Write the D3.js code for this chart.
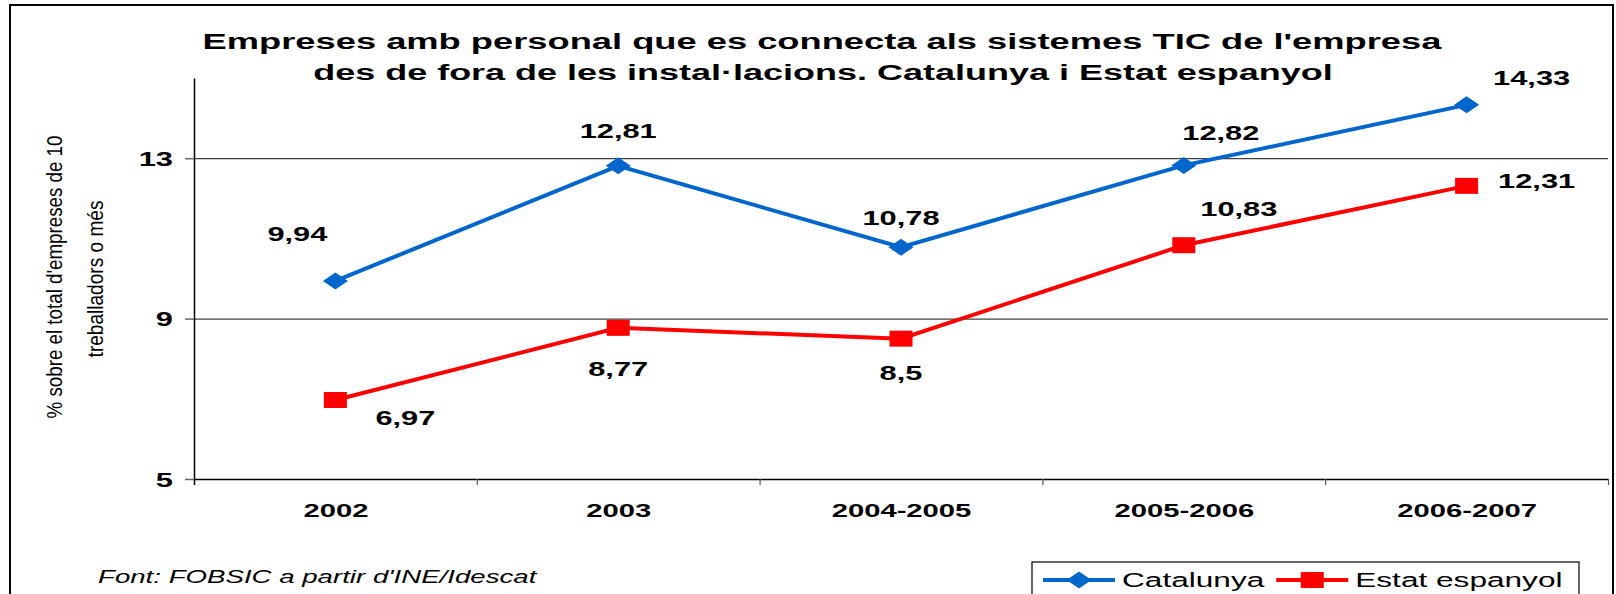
<!DOCTYPE html>
<html>
<head>
<meta charset="utf-8">
<script src="https://cdn.jsdelivr.net/npm/d3@7"></script>
<style>
  html, body { margin: 0; padding: 0; background: #fff; }
  svg { display: block; font-family: Arial, "Liberation Sans", sans-serif; }
</style>
</head>
<body>
<svg id="chart" width="1616" height="594"></svg>
<script>
// chart values
const categories = ["2002", "2003", "2004-2005", "2005-2006", "2006-2007"];
const catalunya = [9.94, 12.81, 10.78, 12.82, 14.33];
const estat = [6.97, 8.77, 8.5, 10.83, 12.31];
const seriesNames = ["Catalunya", "Estat espanyol"];
const yTicks = [5, 9, 13];
const yDomain = [5, 15];

const titleLines = [
  "Empreses amb personal que es connecta als sistemes TIC de l'empresa",
  "des de fora de les instal·lacions. Catalunya i Estat espanyol"
];
const yTitleLines = ["% sobre el total d'empreses de 10", "treballadors o més"];
const sourceText = "Font: FOBSIC a partir d'INE/Idescat";

// label placement relative to each point (dx, dy)
const catOffsets = [[-38, -47], [0, -35], [0, -29], [37, -32], [65, -27]];
const estOffsets = [[70, 18], [0, 41], [0, 34], [55, -36], [70, -5]];

const colors = ["#0066CC", "#FF0000"];
const SX = 1.58; // the original picture is stretched horizontally

const svg = d3.select("#chart");
const margin = { left: 194, right: 8, top: 78, bottom: 115 };
const W = 1616, H = 594;
const plotBottom = H - margin.bottom; // 479

const x = d3.scalePoint().domain(categories)
  .range([margin.left, W - margin.right]).padding(0.5);
const xb = d3.scaleLinear().domain([0, categories.length])
  .range([margin.left, W - margin.right]);
const y = d3.scaleLinear().domain(yDomain).range([plotBottom, margin.top]);

const fmt = d3.formatLocale({ decimal: ",", thousands: ".", grouping: [3], currency: ["", ""] }).format(".4~g");

// helper: put text in a group and stretch it
function stretchText(parent, tx, ty, str, opts) {
  const g = parent.append("g");
  const t = g.append("text")
    .attr("text-anchor", opts.anchor || "middle")
    .style("font-size", opts.size + "px")
    .style("font-weight", opts.weight || "normal")
    .style("font-style", opts.style || "normal")
    .attr("fill", "#000")
    .text(str);
  const w = t.node().getComputedTextLength();
  const k = opts.width ? opts.width / w : (opts.k || SX);
  if (opts.rotate) {
    g.attr("transform", `translate(${tx},${ty}) rotate(${opts.rotate}) scale(${k},${opts.ky || 1})`);
  } else {
    g.attr("transform", `translate(${tx},${ty}) scale(${k},1)`);
  }
  return w * k;
}

// outer border
svg.append("rect")
  .attr("x", 10).attr("y", 5)
  .attr("width", 1603).attr("height", 620)
  .attr("fill", "none").attr("stroke", "#000").attr("stroke-width", 2);

// title
stretchText(svg, 822, 49, titleLines[0], { size: 22.5, weight: "bold", width: 1239 });
stretchText(svg, 823, 80, titleLines[1], { size: 22.5, weight: "bold", width: 1020 });

// gridlines
svg.append("g")
  .attr("transform", `translate(${margin.left},0)`)
  .call(d3.axisLeft(y).tickValues(yTicks.filter(d => d !== yDomain[0]))
    .tickSize(-(W - margin.right - margin.left)).tickFormat(""))
  .call(g => g.select(".domain").remove())
  .call(g => g.selectAll("line").attr("stroke", "#404040").attr("stroke-width", 1.2));

// y axis
const yAxis = svg.append("g")
  .attr("transform", `translate(${margin.left},0)`)
  .call(d3.axisLeft(y).tickValues(yTicks).tickSize(9).tickSizeOuter(0).tickFormat(d => d));
yAxis.select(".domain").attr("stroke", "#000").attr("stroke-width", 1.5);
yAxis.selectAll(".tick line").attr("stroke", "#666").attr("stroke-width", 1.5);
yAxis.selectAll(".tick text")
  .attr("x", -21 / SX).attr("dy", "0.36em")
  .attr("transform", `scale(${SX},1)`)
  .style("font-size", "19.5px").style("font-weight", "bold").attr("fill", "#000");

// x axis: baseline and category boundary ticks
const xBound = svg.append("g")
  .attr("transform", `translate(0,${plotBottom})`)
  .call(d3.axisBottom(xb).tickValues(d3.range(categories.length + 1)).tickSize(6).tickSizeOuter(0).tickFormat(""));
xBound.select(".domain").attr("stroke", "#000").attr("stroke-width", 1.5);
xBound.selectAll(".tick line").attr("stroke", "#555").attr("stroke-width", 1.2);
xBound.select(".tick line").attr("stroke", "#000").attr("stroke-width", 1.5);

// x axis: category labels
const xAxis = svg.append("g")
  .attr("transform", `translate(0,${plotBottom})`)
  .call(d3.axisBottom(x).tickSize(0));
xAxis.select(".domain").remove();
xAxis.selectAll(".tick text")
  .attr("y", 38).attr("dy", 0)
  .attr("transform", `scale(${SX},1)`)
  .style("font-size", "18.5px").style("font-weight", "bold").attr("fill", "#000");

// y axis title
stretchText(svg, 62, 277, yTitleLines[0], { size: 17, rotate: -90, width: 283, ky: 1.3 });
stretchText(svg, 103, 279, yTitleLines[1], { size: 17, rotate: -90, width: 157, ky: 1.3 });

// lines
const series = [
  { name: seriesNames[0], values: catalunya, offsets: catOffsets, color: colors[0], marker: "diamond" },
  { name: seriesNames[1], values: estat, offsets: estOffsets, color: colors[1], marker: "square" }
];

const line = d3.line()
  .x((d, i) => x(categories[i]))
  .y(d => y(d));

const diamondPath = "M0,-8.5L12.5,0L0,8.5L-12.5,0Z";

function drawMarker(g, type, color) {
  if (type === "diamond") {
    g.append("path").attr("d", diamondPath).attr("fill", color);
  } else {
    g.append("rect").attr("x", -11.5).attr("y", -8).attr("width", 23).attr("height", 16).attr("fill", color);
  }
}

series.forEach(s => {
  svg.append("path")
    .datum(s.values)
    .attr("fill", "none")
    .attr("stroke", s.color)
    .attr("stroke-width", 4)
    .attr("d", line);

  s.values.forEach((v, i) => {
    const m = svg.append("g")
      .attr("transform", `translate(${x(categories[i])},${y(v)})`);
    drawMarker(m, s.marker, s.color);
  });

  const labels = svg.append("g");
  s.values.forEach((v, i) => {
    const [dx, dy] = s.offsets[i];
    stretchText(labels, x(categories[i]) + dx, y(v) + dy + 7, fmt(v), { size: 19.5, weight: "bold" });
  });
});

// source note
stretchText(svg, 98, 583, sourceText, { size: 17.5, style: "italic", anchor: "start" });

// legend
const legend = svg.append("g");
legend.append("rect")
  .attr("x", 1032).attr("y", 562)
  .attr("width", 547).attr("height", 60)
  .attr("fill", "#fff").attr("stroke", "#000").attr("stroke-width", 1.2);

let lx = 1043;
const ly = 580;
series.forEach(s => {
  legend.append("line")
    .attr("x1", lx).attr("x2", lx + 72)
    .attr("y1", ly).attr("y2", ly)
    .attr("stroke", s.color).attr("stroke-width", 4);
  const m = legend.append("g").attr("transform", `translate(${lx + 36},${ly})`);
  drawMarker(m, s.marker, s.color);
  const w = stretchText(legend, lx + 79, ly + 7, s.name, { size: 19.5, anchor: "start", k: 1.62 });
  lx = lx + 79 + w + 12;
});
</script>
</body>
</html>
